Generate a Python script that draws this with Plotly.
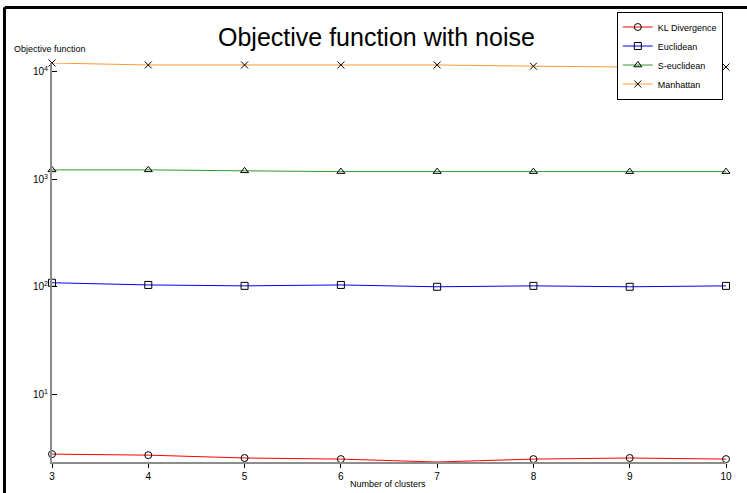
import math
import plotly.graph_objects as go

clusters = [3, 4, 5, 6, 7, 8, 9, 10]
kl_divergence = [2.77, 2.71, 2.55, 2.49, 2.34, 2.49, 2.55, 2.49]
euclidean = [109, 104, 102, 104, 100, 102, 100, 102]
s_euclidean = [1225, 1225, 1200, 1180, 1180, 1180, 1180, 1180]
manhattan = [12100, 11600, 11600, 11600, 11600, 11300, 11100, 11100]

series = [
    ("KL Divergence", kl_divergence, "#ff0000", "circle-open"),
    ("Euclidean", euclidean, "#0000ff", "square-open"),
    ("S-euclidean", s_euclidean, "#2e9a2e", "triangle-up-open"),
    ("Manhattan", manhattan, "#ff9a33", "x-thin-open"),
]

y_tickvals = [10, 100, 1000, 10000]
y_ticktext = ["10<sup>1</sup>", "10<sup>2</sup>", "10<sup>3</sup>", "10<sup>4</sup>"]

fig = go.Figure()
for name, vals, color, sym in series:
    fig.add_trace(go.Scatter(
        x=clusters, y=vals, name=name, mode="lines+markers",
        line=dict(color=color, width=1),
        marker=dict(symbol=sym, size=7, color="black", line=dict(color="black", width=1)),
        cliponaxis=False,
    ))

all_vals = [v for _, vals, _, _ in series for v in vals]
ymin, ymax = math.log10(min(all_vals)), math.log10(max(all_vals))

font = "Liberation Sans, Arial, sans-serif"
fig.update_layout(
    width=747, height=493,
    margin=dict(l=52, r=21, t=60, b=31),
    paper_bgcolor="white", plot_bgcolor="white",
    font=dict(family=font, size=9, color="black"),
    showlegend=True,
    legend=dict(x=0.838, y=1.129, xanchor="left", yanchor="top",
                bgcolor="white", bordercolor="black", borderwidth=1,
                font=dict(size=9), tracegroupgap=0, itemwidth=30),
    xaxis=dict(range=[3, 10], tickvals=clusters, showgrid=False, zeroline=False,
               showline=True, linecolor="#8c8c8c", linewidth=2,
               ticks="outside", ticklen=4, tickcolor="black", tickwidth=1,
               tickfont=dict(size=10)),
    yaxis=dict(type="log", range=[ymin, ymax], tickvals=y_tickvals, ticktext=y_ticktext,
               showgrid=False, zeroline=False,
               showline=True, linecolor="#8c8c8c", linewidth=2,
               ticks="inside", ticklen=5, tickcolor="black", tickwidth=1,
               tickfont=dict(size=10)),
    annotations=[
        dict(text="Objective function with noise", xref="paper", yref="paper",
             x=0.481, y=1.066, xanchor="center", yanchor="middle", showarrow=False,
             font=dict(size=25, family=font)),
        dict(text="Objective function", xref="paper", yref="paper",
             x=-0.059, y=1.036, xanchor="left", yanchor="middle", showarrow=False,
             font=dict(size=9, family=font)),
        dict(text="Number of clusters", xref="paper", yref="paper",
             x=0.498, y=-0.055, xanchor="center", yanchor="middle", showarrow=False,
             font=dict(size=9, family=font)),
    ],
    shapes=[
        dict(type="line", xref="paper", yref="paper", x0=-0.07, x1=1.04, y0=1.139, y1=1.139,
             line=dict(color="black", width=3)),
        dict(type="line", xref="paper", yref="paper", x0=-0.0705, x1=-0.0705, y0=1.14, y1=-0.08,
             line=dict(color="black", width=3)),
    ],
)

fig.write_html("out.html")
